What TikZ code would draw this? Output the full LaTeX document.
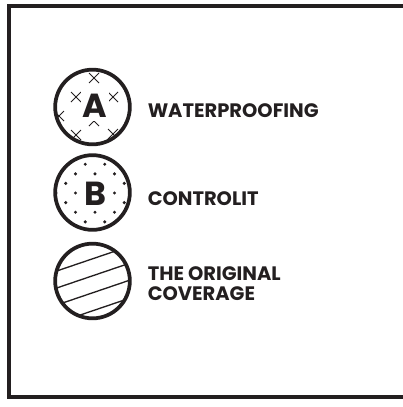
\documentclass[tikz,border=0pt]{standalone}
\usepackage{fontspec}
\setmainfont{Poppins}
\definecolor{ink}{RGB}{35,31,32}
\tikzset{
  frameline/.style={draw=ink, line width=2.4pt},
  ring/.style={circle, draw=ink, line width=2.8pt, minimum size=56pt, inner sep=0pt},
  letter/.style={fill=white, text=ink, font=\bfseries\fontsize{25}{25}\selectfont, inner sep=0pt, minimum width=21pt, minimum height=22pt},
  caption/.style={text=ink, font=\bfseries\fontsize{14.6}{15}\selectfont, inner sep=0pt, align=left},
  crossline/.style={draw=ink, line width=0.7pt},
  hatchline/.style={draw=ink, line width=1pt}
}
\begin{document}
\begin{tikzpicture}[x=0.75pt,y=-0.75pt]
\useasboundingbox (0,0) rectangle (403,407);

\def\crossmark(#1,#2){
  \draw[crossline] (#1-5,#2-5) -- (#1+5,#2+5) (#1-5,#2+5) -- (#1+5,#2-5);
}

\draw[frameline] (420,6) -- (9,6) -- (9,397) -- (420,397);

% A: waterproofing
\begin{scope}
  \clip (92.5,107) circle (37);
  \foreach \cx/\cy in {94/78, 76/97, 113/97, 59/116, 94/121, 76/135, 113/134}
    \crossmark(\cx,\cy);
\end{scope}
\node[letter, minimum height=23pt] (letterA) at (95,105.5) {A};
\node[ring] (ringA) at (92.5,107) {};
\node[caption, anchor=base west] (textA) at (147.5,117) {WATERPROOFING};

% B: controlit
\begin{scope}
  \clip (92.5,192.5) circle (37);
  \foreach \i in {-4,...,4}
    \foreach \j in {-4,...,4}{
      \pgfmathtruncatemacro\dotpar{mod(\i+\j+20,2)}
      \ifnum\dotpar=0
        \fill[ink] (95+9.75*\i,193+9.6*\j) circle (1.7);
      \fi
    }
\end{scope}
\node[letter] (letterB) at (95.5,193.5) {B};
\node[ring] (ringB) at (92.5,192.5) {};
\node[caption, anchor=base west] (textB) at (147.5,205) {CONTROLIT};

% C: the original coverage
\begin{scope}
  \clip (92.5,281) circle (37);
  \foreach \c in {259,276,293,311}
    \draw[hatchline] (40,\c+0.34*52) -- (150,\c-0.34*58);
\end{scope}
\node[ring] (ringC) at (92.5,281) {};
\node[caption, anchor=west] (textC) at (147.5,283.5) {THE ORIGINAL\\COVERAGE};

\end{tikzpicture}
\end{document}
